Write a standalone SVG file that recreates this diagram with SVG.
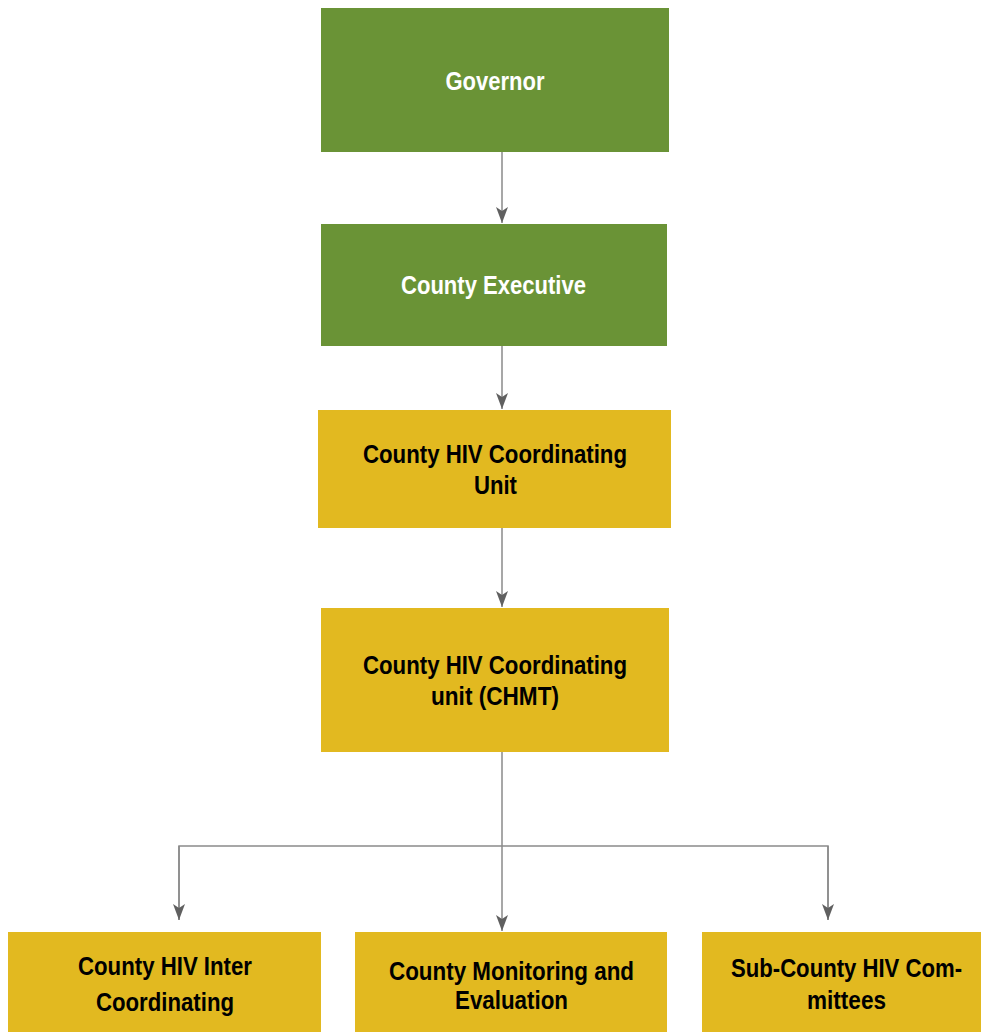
<svg xmlns="http://www.w3.org/2000/svg" width="982" height="1032" viewBox="0 0 982 1032">
<style>
.g{fill:#6A9336}
.y{fill:#E2B920}
.t{font-family:"Liberation Sans",Arial,sans-serif;font-weight:bold;font-size:25px;text-anchor:middle}
.w{fill:#FFFFFF}
.k{fill:#000000}
.c{fill:none;stroke:#8A8A8A;stroke-width:1.5}
</style>
<defs>
<marker id="ah" markerWidth="16" markerHeight="12" refX="16" refY="6" orient="auto" markerUnits="userSpaceOnUse" viewBox="0 0 16 12">
<path d="M0,0 L16,6 L0,12 L4,6 Z" fill="#606060"/>
</marker>
</defs>
<rect width="982" height="1032" fill="#FFFFFF"/>
<g id="connectors">
<path class="c" d="M502,152 V223" marker-end="url(#ah)"/>
<path class="c" d="M502,346 V409" marker-end="url(#ah)"/>
<path class="c" d="M502,528 V607" marker-end="url(#ah)"/>
<path class="c" d="M502,752 V931" marker-end="url(#ah)"/>
<path class="c" d="M179,920 V846 H828 V920"/>
<path class="c" d="M179,846 V920" marker-end="url(#ah)"/>
<path class="c" d="M828,846 V920" marker-end="url(#ah)"/>
</g>
<g id="governor">
<rect class="g" x="321" y="8" width="348" height="144"/>
<text class="t w" x="495" y="90" textLength="99" lengthAdjust="spacingAndGlyphs">Governor</text>
</g>
<g id="county-executive">
<rect class="g" x="321" y="224" width="346" height="122"/>
<text class="t w" x="493.5" y="294" textLength="185" lengthAdjust="spacingAndGlyphs">County Executive</text>
</g>
<g id="county-hiv-coordinating-unit">
<rect class="y" x="318" y="410" width="353" height="118"/>
<text class="t k" x="495" y="463" textLength="264" lengthAdjust="spacingAndGlyphs">County HIV Coordinating</text>
<text class="t k" x="495.5" y="494" textLength="43" lengthAdjust="spacingAndGlyphs">Unit</text>
</g>
<g id="county-hiv-coordinating-chmt">
<rect class="y" x="321" y="608" width="348" height="144"/>
<text class="t k" x="495" y="674" textLength="264" lengthAdjust="spacingAndGlyphs">County HIV Coordinating</text>
<text class="t k" x="495" y="705" textLength="128" lengthAdjust="spacingAndGlyphs">unit (CHMT)</text>
</g>
<g id="county-hiv-inter">
<rect class="y" x="8" y="932" width="313" height="100"/>
<text class="t k" x="165" y="975" textLength="174" lengthAdjust="spacingAndGlyphs">County HIV Inter</text>
<text class="t k" x="165" y="1011" textLength="138" lengthAdjust="spacingAndGlyphs">Coordinating</text>
</g>
<g id="county-me">
<rect class="y" x="355" y="932" width="312" height="100"/>
<text class="t k" x="511.5" y="980" textLength="245" lengthAdjust="spacingAndGlyphs">County Monitoring and</text>
<text class="t k" x="511.5" y="1009" textLength="113" lengthAdjust="spacingAndGlyphs">Evaluation</text>
</g>
<g id="sub-county">
<rect class="y" x="702" y="932" width="279" height="100"/>
<text class="t k" transform="translate(846.5,977) scale(0.834,1)" x="0" y="0" textLength="277" lengthAdjust="spacingAndGlyphs">Sub-County HIV Com-</text>
<text class="t k" x="846.5" y="1009" textLength="79" lengthAdjust="spacingAndGlyphs">mittees</text>
</g>
</svg>
